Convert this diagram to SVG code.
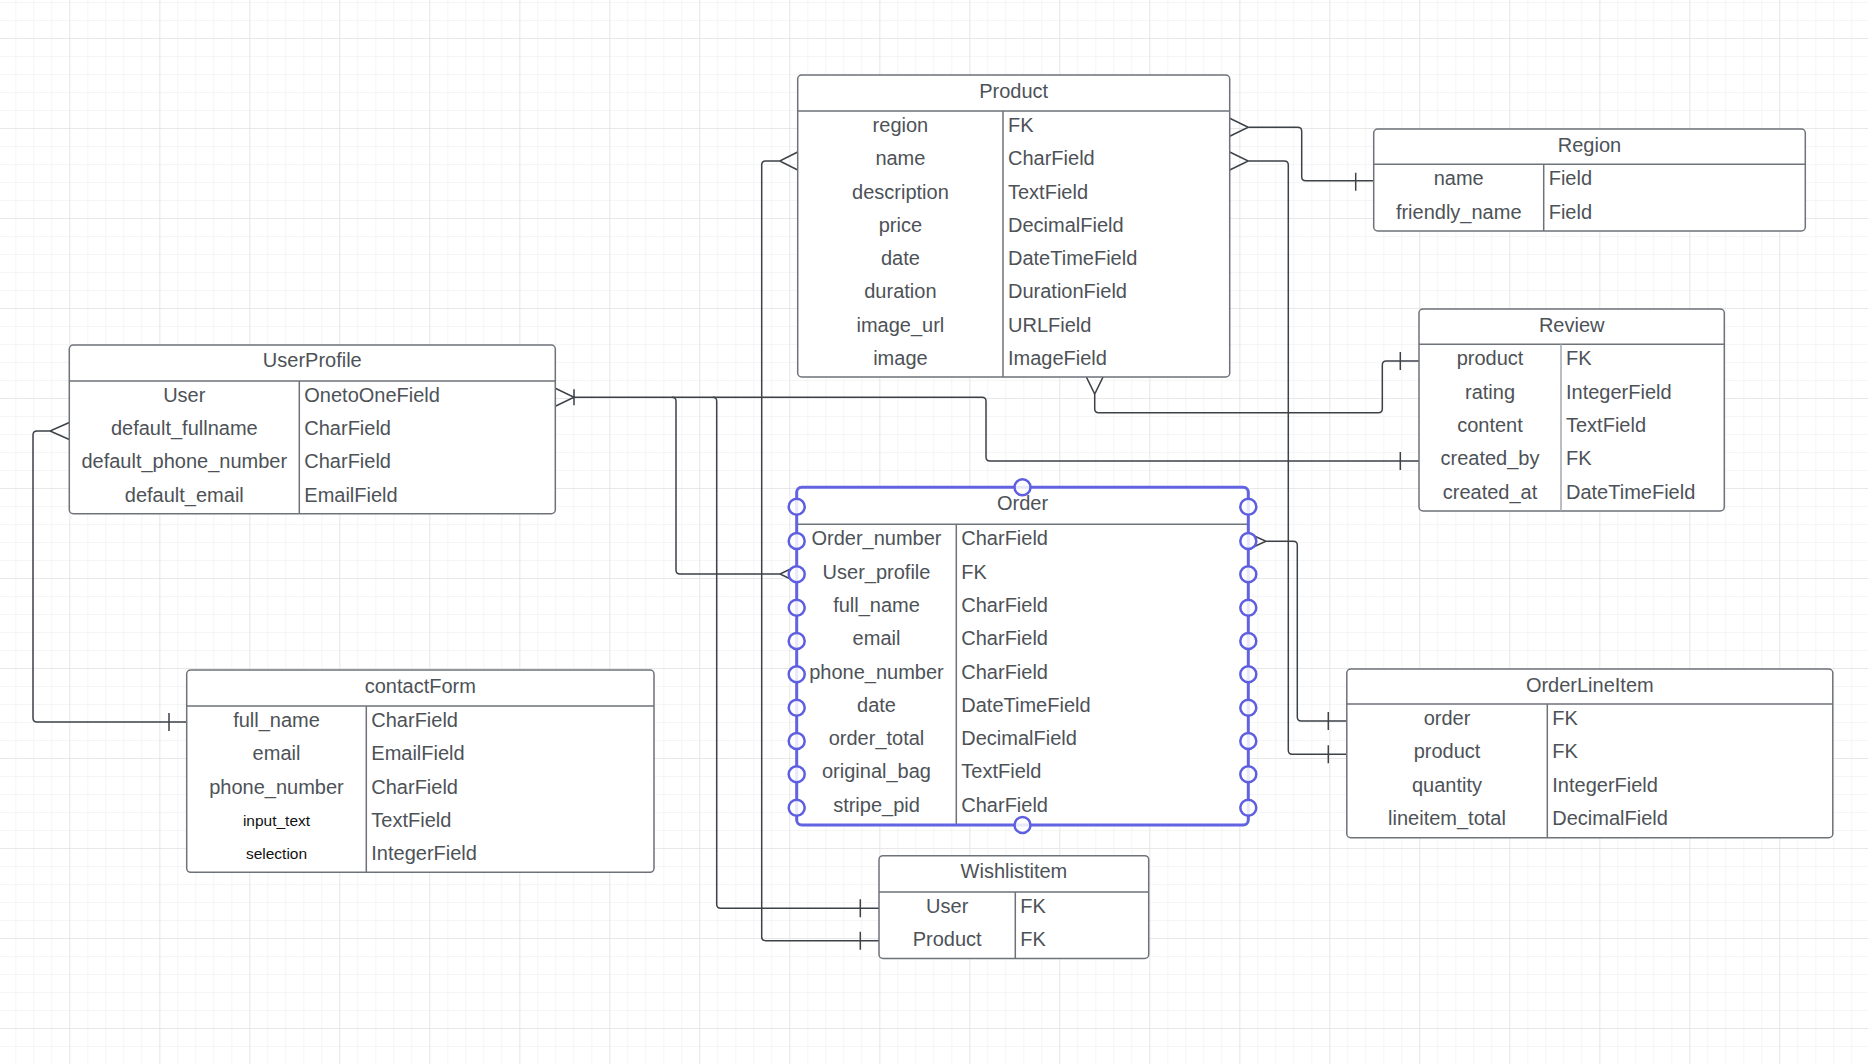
<svg xmlns="http://www.w3.org/2000/svg" width="1868" height="1064" viewBox="0 0 1868 1064">
<style>
.box{fill:#fff;stroke:#6e7279;stroke-width:1.5}
.ln{stroke:#6e7279;stroke-width:1.5;fill:none}
.ln2{stroke:#a3a7ad;stroke-width:1.5;fill:none}
.t{font-family:"Liberation Sans",Arial,sans-serif;font-size:20px;fill:#4d5257}
.s{font-family:"Liberation Sans",Arial,sans-serif;font-size:15.5px;fill:#111;text-anchor:middle}
.c{text-anchor:middle}
.con{fill:none;stroke:#3d4249;stroke-width:1.5}
.sel{fill:none;stroke:#6163e0;stroke-width:3}
.h{fill:#fff;fill-opacity:0.85;stroke:#5d5fe0;stroke-width:2.5}
</style>
<defs>
<pattern id="minor" patternUnits="userSpaceOnUse" x="15.3" y="2" width="18" height="18">
<path d="M0 0H18M0 0V18" stroke="#ececec" stroke-width="1" fill="none"/>
</pattern>
<pattern id="major" patternUnits="userSpaceOnUse" x="69.3" y="38" width="90" height="90">
<path d="M0 0H90M0 0V90" stroke="#dcdcdc" stroke-width="1" fill="none"/>
</pattern>
</defs>
<rect width="1868" height="1064" fill="#fff"/>
<rect width="1868" height="1064" fill="url(#minor)"/>
<rect width="1868" height="1064" fill="url(#major)"/>

<g id="connectors">
<!-- Product.region -> Region.name -->
<path class="con" d="M1229.7,118.3L1248.3,127.3L1229.7,136.3M1248.3,127.3H1297.7Q1301.7,127.3 1301.7,131.3V176.7Q1301.7,180.7 1305.7,180.7H1373.7M1355.7,172.7V190.7"/>
<!-- Product.name -> OrderLineItem.product -->
<path class="con" d="M1229.7,152L1248.3,161L1229.7,170M1248.3,161H1284.3Q1288.3,161 1288.3,165V750.3Q1288.3,754.3 1292.3,754.3H1346.8M1328.3,745.3V763.3"/>
<!-- Order.Order_number -> OrderLineItem.order -->
<path class="con" d="M1248.3,533.3L1266,541.3L1248.3,549.3M1266,541.3H1293.3Q1297.3,541.3 1297.3,545.3V717Q1297.3,721 1301.3,721H1346.8M1328.3,712V730"/>
<!-- Product.name (left) -> Wishlistitem.Product -->
<path class="con" d="M797.7,152L779.7,161L797.7,170M779.7,161H765.7Q761.7,161 761.7,165V936.7Q761.7,940.7 765.7,940.7H879M860.3,931.7V949.7"/>
<!-- UserProfile.User -> Review.created_by -->
<path class="con" d="M555.3,388.3L574,397.3L555.3,406.3M574,389.3V405.3M574,397.3H982Q986,397.3 986,401.3V457Q986,461 990,461H1419M1400.3,452V470"/>
<!-- UserProfile.User -> Order.User_profile -->
<path class="con" d="M672,397.3Q676,397.3 676,401.3V570Q676,574 680,574H780M796.7,566L780,574L796.7,582"/>
<!-- UserProfile.User -> Wishlistitem.User -->
<path class="con" d="M712.7,397.3Q716.7,397.3 716.7,401.3V904.3Q716.7,908.3 720.7,908.3H879M860.3,899.3V917.3"/>
<!-- Product (bottom) -> Review.product -->
<path class="con" d="M1086.2,376.7L1094.7,394L1103.2,376.7M1094.7,394V408.7Q1094.7,412.7 1098.7,412.7H1378.3Q1382.3,412.7 1382.3,408.7V365Q1382.3,361 1386.3,361H1419M1400.3,352V370"/>
<!-- UserProfile.default_fullname -> contactForm.full_name -->
<path class="con" d="M69.3,422.5L50,431L69.3,439.5M50,431H37Q33,431 33,435V718Q33,722 37,722H186.7M169,713V731"/>
</g>

<g id="Product">
<rect class="box" x="797.7" y="75" width="432" height="302" rx="4"/>
<path class="ln" d="M797.7,111H1229.7M1003,111V377"/>
<text class="t c" x="1013.7" y="97.7">Product</text>
<g class="t c">
<text x="900.4" y="132">region</text>
<text x="900.4" y="165.25">name</text>
<text x="900.4" y="198.5">description</text>
<text x="900.4" y="231.75">price</text>
<text x="900.4" y="265">date</text>
<text x="900.4" y="298.25">duration</text>
<text x="900.4" y="331.5">image_url</text>
<text x="900.4" y="364.75">image</text>
</g>
<g class="t">
<text x="1008" y="132">FK</text>
<text x="1008" y="165.25">CharField</text>
<text x="1008" y="198.5">TextField</text>
<text x="1008" y="231.75">DecimalField</text>
<text x="1008" y="265">DateTimeField</text>
<text x="1008" y="298.25">DurationField</text>
<text x="1008" y="331.5">URLField</text>
<text x="1008" y="364.75">ImageField</text>
</g>
</g>

<g id="Region">
<rect class="box" x="1373.7" y="129" width="431.6" height="102" rx="4"/>
<path class="ln" d="M1373.7,164.3H1805.3M1543.7,164.3V231"/>
<text class="t c" x="1589.5" y="151.5">Region</text>
<text class="t c" x="1458.7" y="185.3">name</text>
<text class="t c" x="1458.7" y="218.6">friendly_name</text>
<text class="t" x="1548.7" y="185.3">Field</text>
<text class="t" x="1548.7" y="218.6">Field</text>
</g>

<g id="UserProfile">
<rect class="box" x="69.3" y="345" width="486" height="168.7" rx="4"/>
<path class="ln" d="M69.3,381H555.3M299.3,381V513.7"/>
<text class="t c" x="312.3" y="367.3">UserProfile</text>
<g class="t c">
<text x="184.3" y="402">User</text>
<text x="184.3" y="435.2">default_fullname</text>
<text x="184.3" y="468.4">default_phone_number</text>
<text x="184.3" y="501.6">default_email</text>
</g>
<g class="t">
<text x="304.3" y="402">OnetoOneField</text>
<text x="304.3" y="435.2">CharField</text>
<text x="304.3" y="468.4">CharField</text>
<text x="304.3" y="501.6">EmailField</text>
</g>
</g>

<g id="Review">
<rect class="box" x="1419" y="309" width="305.3" height="202" rx="4"/>
<path class="ln" d="M1419,344.3H1724.3"/>
<path class="ln2" d="M1561,344.3V511"/>
<text class="t c" x="1571.7" y="331.5">Review</text>
<g class="t c">
<text x="1490" y="365.3">product</text>
<text x="1490" y="398.6">rating</text>
<text x="1490" y="431.9">content</text>
<text x="1490" y="465.2">created_by</text>
<text x="1490" y="498.5">created_at</text>
</g>
<g class="t">
<text x="1566" y="365.3">FK</text>
<text x="1566" y="398.6">IntegerField</text>
<text x="1566" y="431.9">TextField</text>
<text x="1566" y="465.2">FK</text>
<text x="1566" y="498.5">DateTimeField</text>
</g>
</g>

<g id="Order">
<rect class="box" x="796.7" y="487.3" width="451.6" height="337.7" rx="4"/>
<path class="ln" d="M796.7,524.3H1248.3M956.3,524.3V825"/>
<text class="t c" x="1022.5" y="509.8">Order</text>
<g class="t c">
<text x="876.5" y="545.3">Order_number</text>
<text x="876.5" y="578.6">User_profile</text>
<text x="876.5" y="611.9">full_name</text>
<text x="876.5" y="645.2">email</text>
<text x="876.5" y="678.5">phone_number</text>
<text x="876.5" y="711.8">date</text>
<text x="876.5" y="745.1">order_total</text>
<text x="876.5" y="778.4">original_bag</text>
<text x="876.5" y="811.7">stripe_pid</text>
</g>
<g class="t">
<text x="961.3" y="545.3">CharField</text>
<text x="961.3" y="578.6">FK</text>
<text x="961.3" y="611.9">CharField</text>
<text x="961.3" y="645.2">CharField</text>
<text x="961.3" y="678.5">CharField</text>
<text x="961.3" y="711.8">DateTimeField</text>
<text x="961.3" y="745.1">DecimalField</text>
<text x="961.3" y="778.4">TextField</text>
<text x="961.3" y="811.7">CharField</text>
</g>
<rect class="sel" x="796.7" y="487.3" width="451.6" height="337.7" rx="5"/>
<g class="h">
<circle cx="1022.5" cy="487.3" r="8"/>
<circle cx="1022.5" cy="825" r="8"/>
<circle cx="796.7" cy="506.7" r="8"/>
<circle cx="796.7" cy="541" r="8"/>
<circle cx="796.7" cy="574.3" r="8"/>
<circle cx="796.7" cy="607.7" r="8"/>
<circle cx="796.7" cy="641" r="8"/>
<circle cx="796.7" cy="674.3" r="8"/>
<circle cx="796.7" cy="707.7" r="8"/>
<circle cx="796.7" cy="741" r="8"/>
<circle cx="796.7" cy="774.3" r="8"/>
<circle cx="796.7" cy="807.7" r="8"/>
<circle cx="1248.3" cy="506.7" r="8"/>
<circle cx="1248.3" cy="541" r="8"/>
<circle cx="1248.3" cy="574.3" r="8"/>
<circle cx="1248.3" cy="607.7" r="8"/>
<circle cx="1248.3" cy="641" r="8"/>
<circle cx="1248.3" cy="674.3" r="8"/>
<circle cx="1248.3" cy="707.7" r="8"/>
<circle cx="1248.3" cy="741" r="8"/>
<circle cx="1248.3" cy="774.3" r="8"/>
<circle cx="1248.3" cy="807.7" r="8"/>
</g>
</g>

<g id="contactForm">
<rect class="box" x="186.7" y="670" width="467.3" height="202.3" rx="4"/>
<path class="ln" d="M186.7,706H654M366.3,706V872.3"/>
<text class="t c" x="420.3" y="692.5">contactForm</text>
<text class="t c" x="276.5" y="727">full_name</text>
<text class="t c" x="276.5" y="760.3">email</text>
<text class="t c" x="276.5" y="793.6">phone_number</text>
<text class="s" x="276.5" y="825.7">input_text</text>
<text class="s" x="276.5" y="859">selection</text>
<g class="t">
<text x="371.3" y="727">CharField</text>
<text x="371.3" y="760.3">EmailField</text>
<text x="371.3" y="793.6">CharField</text>
<text x="371.3" y="826.9">TextField</text>
<text x="371.3" y="860.2">IntegerField</text>
</g>
</g>

<g id="OrderLineItem">
<rect class="box" x="1346.8" y="669" width="486" height="168.7" rx="4"/>
<path class="ln" d="M1346.8,704H1832.8M1547.3,704V837.7"/>
<text class="t c" x="1589.8" y="691.5">OrderLineItem</text>
<g class="t c">
<text x="1447" y="725">order</text>
<text x="1447" y="758.3">product</text>
<text x="1447" y="791.6">quantity</text>
<text x="1447" y="824.9">lineitem_total</text>
</g>
<g class="t">
<text x="1552.3" y="725">FK</text>
<text x="1552.3" y="758.3">FK</text>
<text x="1552.3" y="791.6">IntegerField</text>
<text x="1552.3" y="824.9">DecimalField</text>
</g>
</g>

<g id="Wishlistitem">
<rect class="box" x="879" y="855.7" width="269.7" height="102.7" rx="4"/>
<path class="ln" d="M879,892H1148.7M1015.3,892V958.4"/>
<text class="t c" x="1013.9" y="878.2">Wishlistitem</text>
<text class="t c" x="947.2" y="913">User</text>
<text class="t c" x="947.2" y="946.3">Product</text>
<text class="t" x="1020.3" y="913">FK</text>
<text class="t" x="1020.3" y="946.3">FK</text>
</g>
</svg>
